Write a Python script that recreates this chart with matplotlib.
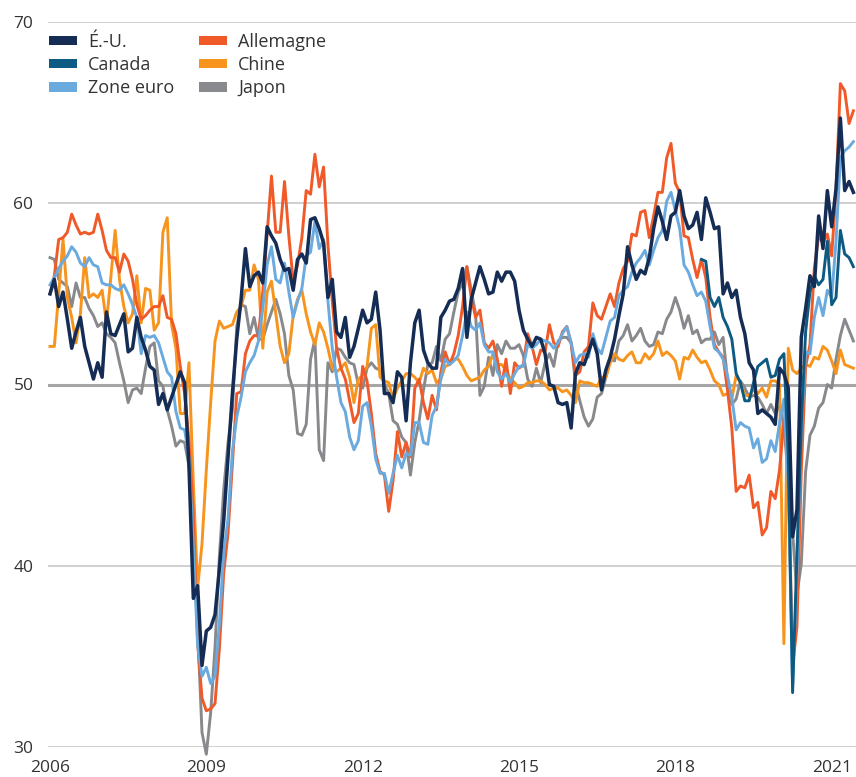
import matplotlib
matplotlib.use("Agg")
import matplotlib.pyplot as plt
from matplotlib.patches import Patch
import numpy as np

plt.rcParams['font.family'] = ['Open Sans', 'DejaVu Sans']

# ---- data: monthly PMI, Jan 2006 - Jun 2021 ----
us = [
    55.0, 55.8, 54.3, 55.1, 53.6, 52.0, 52.9, 53.7, 52.1, 51.2, 50.3, 51.2,
    50.4, 54.0, 52.8, 52.7, 53.3, 53.9, 51.8, 52.0, 53.7, 52.6, 51.9, 51.0,
    50.8, 48.9, 49.5, 48.6, 49.3, 50.0, 50.7, 50.1, 45.5, 38.2, 38.9, 34.5,
    36.4, 36.6, 37.3, 39.8, 42.5, 46.0, 49.5, 52.5, 54.7, 57.5, 55.4, 56.0,
    56.2, 55.6, 58.7, 58.2, 57.8, 56.9, 56.3, 56.4, 55.2, 56.9, 57.2, 56.7,
    59.1, 59.2, 58.6, 57.8, 54.8, 55.8, 52.9, 52.6, 53.7, 51.5, 52.1, 53.1,
    54.1, 53.4, 53.6, 55.1, 53.0, 49.5, 49.5, 49.0, 50.7, 50.4, 48.0, 51.2,
    53.4, 54.1, 51.9, 51.2, 50.9, 50.9, 53.7, 54.1, 54.6, 54.7, 55.3, 56.4,
    52.6, 54.7, 55.6, 56.5, 55.8, 55.0, 55.1, 56.2, 55.7, 56.2, 56.2, 55.7,
    54.1, 53.0, 52.5, 52.1, 52.6, 52.5, 51.7, 50.0, 49.9, 49.0, 48.9, 49.0,
    47.6, 50.6, 51.2, 51.1, 51.8, 52.5, 51.7, 49.7, 50.8, 51.5, 52.5, 53.8,
    55.0, 57.6, 56.6, 55.8, 56.3, 56.1, 57.0, 58.6, 59.8, 59.0, 58.0, 59.3,
    59.5, 60.7, 59.3, 58.6, 58.8, 59.5, 58.0, 60.3, 59.5, 58.6, 58.7, 55.0,
    55.6, 54.8, 55.2, 53.7, 52.8, 51.2, 50.8, 48.4, 48.6, 48.4, 48.2, 47.8,
    50.9, 50.6, 49.8, 41.6, 43.1, 52.6, 54.2, 56.0, 55.4, 59.3, 57.5, 60.7,
    58.7, 60.8, 64.7, 60.7, 61.2, 60.6,
]

# Canada: series starts Jul 2018
canada_start = 150
canada = [
    56.9, 56.8, 54.8, 54.3, 54.8, 53.7,
    53.2, 52.5, 50.6, 50.1, 49.1, 49.1, 50.1, 51.0, 51.2, 51.4, 50.4, 50.5,
    51.4, 51.7, 46.1, 33.0, 40.6, 47.8, 52.9, 55.1, 56.0, 55.5, 55.8, 57.9,
    54.4, 54.8, 58.5, 57.2, 57.0, 56.5,
]

euro = [
    55.5, 55.9, 56.4, 56.8, 57.1, 57.6, 57.3, 56.7, 56.5, 57.0, 56.6, 56.5,
    55.6, 55.5, 55.5, 55.3, 55.2, 55.5, 55.0, 54.4, 53.7, 51.7, 52.7, 52.6,
    52.7, 52.3, 51.5, 50.7, 50.4, 48.5, 47.6, 47.5, 46.0, 41.1, 35.6, 33.9,
    34.4, 33.5, 33.9, 36.8, 40.7, 42.6, 46.3, 48.2, 49.3, 50.7, 51.2, 51.6,
    52.4, 54.2, 56.6, 57.6, 55.8, 55.6, 56.7, 55.1, 53.7, 54.6, 55.3, 57.1,
    57.3, 59.0, 57.5, 58.0, 54.6, 52.0, 50.4, 49.0, 48.5, 47.1, 46.4, 46.9,
    48.8, 49.0, 47.7, 45.9, 45.1, 45.1, 44.0, 45.1, 46.1, 45.4, 46.2, 46.1,
    47.9, 47.9, 46.8, 46.7, 48.3, 48.8, 50.3, 51.4, 51.1, 51.3, 51.6, 52.7,
    54.0, 53.2, 53.0, 53.4, 52.2, 51.8, 51.8, 50.7, 50.3, 50.6, 50.1, 50.6,
    51.0, 51.0, 52.2, 52.0, 52.2, 52.5, 52.4, 52.3, 52.0, 52.3, 52.8, 53.2,
    52.3, 51.2, 51.6, 51.7, 51.5, 52.8, 52.0, 51.7, 52.6, 53.5, 53.7, 54.9,
    55.2, 55.4, 56.2, 56.7, 57.0, 57.4, 56.6, 57.4, 58.1, 58.5, 60.1, 60.6,
    59.6, 58.6, 56.6, 56.2, 55.5, 54.9, 55.1, 54.6, 53.2, 52.0, 51.8, 51.4,
    50.5, 49.3, 47.5, 47.9, 47.7, 47.6, 46.5, 47.0, 45.7, 45.9, 46.9, 46.3,
    47.9, 49.2, 44.5, 33.4, 39.4, 47.4, 51.8, 51.7, 53.7, 54.8, 53.8, 55.2,
    54.8, 57.9, 62.5, 62.9, 63.1, 63.4,
]

germany = [
    55.0, 56.0, 58.0, 58.1, 58.4, 59.4, 58.8, 58.3, 58.4, 58.3, 58.4, 59.4,
    58.5, 57.4, 57.0, 57.0, 56.2, 57.2, 56.8, 55.8, 54.4, 53.6, 53.8, 54.1,
    54.3, 54.3, 54.9, 53.7, 53.6, 52.8, 51.0, 49.5, 46.9, 42.9, 35.7, 32.7,
    32.0, 32.1, 32.4, 35.4, 39.6, 41.8, 45.6, 49.5, 49.6, 51.7, 52.4, 52.7,
    52.7, 55.1, 58.3, 61.5, 58.4, 58.4, 61.2, 58.2, 55.7, 56.6, 58.1, 60.7,
    60.5, 62.7, 60.9, 62.0, 57.7, 54.6, 52.0, 50.9, 50.3, 49.1, 47.9, 48.4,
    51.0, 50.2, 48.4, 46.2, 45.2, 45.0, 43.0, 44.7, 47.4, 46.0, 46.8, 46.0,
    49.8, 50.3, 49.0, 48.1, 49.4, 48.6, 50.7, 51.8, 51.1, 51.7, 52.7, 54.3,
    56.5, 54.8, 53.7, 54.1, 52.3, 52.0, 52.4, 51.4, 49.9, 51.4, 49.5, 51.2,
    50.9, 51.1, 52.8, 52.1, 51.1, 51.9, 51.8, 53.3, 52.3, 52.1, 52.9, 53.2,
    52.3, 50.5, 50.7, 51.8, 52.1, 54.5, 53.8, 53.6, 54.3, 55.0, 54.3, 55.6,
    56.4, 56.8, 58.3, 58.2, 59.5, 59.6, 58.1, 59.3, 60.6, 60.6, 62.5, 63.3,
    61.1, 60.6, 58.2, 58.1, 56.9, 55.9, 56.9, 55.9, 53.7, 52.2, 51.8, 51.5,
    49.7, 47.6, 44.1, 44.4, 44.3, 45.0, 43.2, 43.5, 41.7, 42.1, 44.1, 43.7,
    45.3, 48.0, 45.4, 34.5, 36.6, 45.2, 51.0, 52.2, 56.4, 58.2, 57.8, 58.3,
    57.1, 60.7, 66.6, 66.2, 64.4, 65.1,
]

china = [
    52.1, 52.1, 55.0, 58.0, 54.8, 53.7, 52.3, 53.9, 57.0, 54.8, 55.0, 54.8,
    55.2, 53.4, 55.9, 58.5, 55.8, 54.3, 53.4, 53.9, 56.0, 53.4, 55.3, 55.2,
    53.0, 53.4, 58.4, 59.2, 53.3, 52.0, 48.4, 48.4, 51.2, 44.6, 38.8, 41.2,
    45.3, 49.0, 52.4, 53.5, 53.1, 53.2, 53.3, 54.0, 54.3, 55.2, 55.2, 56.6,
    55.8, 52.0, 55.1, 55.7, 53.9, 52.1, 51.2, 51.7, 53.8, 54.7, 55.2, 53.9,
    52.9, 52.2, 53.4, 52.9, 52.0, 50.9, 50.7, 50.9, 51.2, 50.4, 49.0, 50.3,
    50.5, 51.0, 53.1, 53.3, 50.4, 50.2, 50.1, 49.2, 49.8, 50.2, 50.6, 50.6,
    50.4, 50.1, 50.9, 50.6, 50.8, 50.1, 50.3, 51.0, 51.1, 51.4, 51.4, 51.0,
    50.5, 50.2, 50.3, 50.4, 50.8, 51.0, 51.7, 51.1, 51.1, 50.8, 50.3, 50.1,
    49.8, 49.9, 50.1, 50.1, 50.2, 50.2, 50.0, 49.7, 49.8, 49.8, 49.6, 49.7,
    49.4, 49.0, 50.2, 50.1, 50.1, 50.0, 49.9, 50.4, 50.4, 51.2, 51.7, 51.4,
    51.3, 51.6, 51.8, 51.2, 51.2, 51.7, 51.4, 51.7, 52.4, 51.6, 51.8, 51.6,
    51.3, 50.3, 51.5, 51.4, 51.9, 51.5, 51.2, 51.3, 50.8, 50.2, 50.0, 49.4,
    49.5, 49.2, 50.5, 50.1, 49.4, 49.4, 49.7, 49.5, 49.8, 49.3, 50.2, 50.2,
    50.0, 35.7, 52.0, 50.8, 50.6, 50.9, 51.1, 51.0, 51.5, 51.4, 52.1, 51.9,
    51.3, 50.6, 51.9, 51.1, 51.0, 50.9,
]

japan = [
    57.0, 56.9, 55.8, 55.6, 55.4, 54.3, 55.6, 54.8, 54.8, 54.2, 53.8, 53.2,
    53.4, 52.8, 52.6, 52.3, 51.2, 50.2, 49.0, 49.7, 49.8, 49.5, 50.9, 52.1,
    52.3, 50.2, 49.9, 48.6, 47.7, 46.6, 46.9, 46.8, 45.5, 42.0, 36.5, 30.8,
    29.6, 31.9, 35.5, 40.5, 44.2, 46.8, 48.6, 53.2, 54.4, 54.3, 52.8, 53.7,
    52.5, 52.5, 53.3, 54.0, 54.7, 53.9, 52.8, 50.5, 49.7, 47.3, 47.2, 47.8,
    51.4, 52.5, 46.4, 45.8, 51.2, 50.7, 52.0, 51.9, 51.5, 51.2, 51.1, 50.0,
    49.8, 50.9, 51.2, 50.9, 50.8, 50.0, 49.5, 48.0, 47.8, 47.1, 46.8, 45.0,
    46.8, 48.0, 49.7, 51.1, 51.2, 52.1, 51.3, 52.5, 52.8, 54.0, 55.1, 55.6,
    56.5, 55.2, 53.9, 49.4, 49.9, 51.5, 50.5, 52.2, 51.7, 52.4, 52.0, 52.0,
    52.2, 51.6, 50.3, 49.9, 50.9, 50.1, 51.2, 51.7, 51.0, 52.4, 52.6, 52.6,
    52.3, 50.1, 49.1, 48.2, 47.7, 48.1, 49.3, 49.5, 50.4, 51.4, 51.3, 52.4,
    52.7, 53.3, 52.4, 52.7, 53.1, 52.4, 52.1, 52.2, 52.9, 52.8, 53.6, 54.0,
    54.8, 54.1, 53.1, 53.8, 52.8, 53.0, 52.3, 52.5, 52.5, 52.9, 52.2, 52.6,
    50.3, 48.9, 49.2, 50.2, 49.8, 49.3, 49.4, 49.3, 48.9, 48.4, 48.9, 48.4,
    48.8, 47.8, 44.8, 41.9, 38.4, 40.1, 45.2, 47.2, 47.7, 48.7, 49.0, 50.0,
    49.8, 51.4, 52.7, 53.6, 53.0, 52.4,
]

tick_years = ["2006", "2009", "2012", "2015", "2018", "2021"]
y_ticks = [30, 40, 50, 60, 70]

# ---- figure ----
W, H = 856, 777
fig = plt.figure(figsize=(W / 100, H / 100), dpi=100)
ax = fig.add_axes([48 / W, 1 - 747 / H, (W - 48) / W, (747 - 22) / H])

months = np.arange(len(us))
colors = {
    "É.-U.": "#152d55",
    "Canada": "#0d5b82",
    "Zone euro": "#6aaade",
    "Allemagne": "#f05a28",
    "Chine": "#f7941d",
    "Japon": "#88898c",
}

for yv in y_ticks:
    if yv == 50:
        ax.axhline(yv, color="#a6a6a6", lw=2.2, zorder=1)
    else:
        ax.axhline(yv, color="#cbcbcb", lw=1.3, zorder=1)

lw = 2.1
ax.plot(months, japan, color=colors["Japon"], lw=lw, zorder=2, clip_on=False)
ax.plot(months, china, color=colors["Chine"], lw=lw, zorder=3, clip_on=False)
ax.plot(months, germany, color=colors["Allemagne"], lw=lw, zorder=4, clip_on=False)
ax.plot(months, euro, color=colors["Zone euro"], lw=lw, zorder=5, clip_on=False)
ax.plot(np.arange(canada_start, canada_start + len(canada)), canada,
        color=colors["Canada"], lw=lw, zorder=6, clip_on=False)
ax.plot(months, us, color=colors["É.-U."], lw=2.5, zorder=7, clip_on=False)

ax.set_xlim(-0.46, 185.6)
ax.set_ylim(30, 70)
ax.set_yticks(y_ticks)
ax.set_yticklabels([str(v) for v in y_ticks])
ax.set_xticks([0, 36, 72, 108, 144, 180])
ax.set_xticklabels(tick_years)
ax.tick_params(axis="both", length=0, labelsize=12.5, colors="#333333")
ax.tick_params(axis="y", pad=10.5)
ax.tick_params(axis="x", pad=9)
for s in ax.spines.values():
    s.set_visible(False)
ax.set_facecolor("none")

order = ["É.-U.", "Canada", "Zone euro", "Allemagne", "Chine", "Japon"]
handles = [Patch(facecolor=colors[k], edgecolor="none", label=k) for k in order]
leg = fig.legend(handles=handles, ncol=2, loc="upper left",
                 bbox_to_anchor=(49 / W, 1 - 33 / H),
                 frameon=False, fontsize=13, handlelength=1.55,
                 handleheight=0.45, handletextpad=0.62, columnspacing=1.35,
                 labelspacing=0.28, borderpad=0, borderaxespad=0)
for t in leg.get_texts():
    t.set_color("#333333")

fig.savefig("out.png", dpi=100)
